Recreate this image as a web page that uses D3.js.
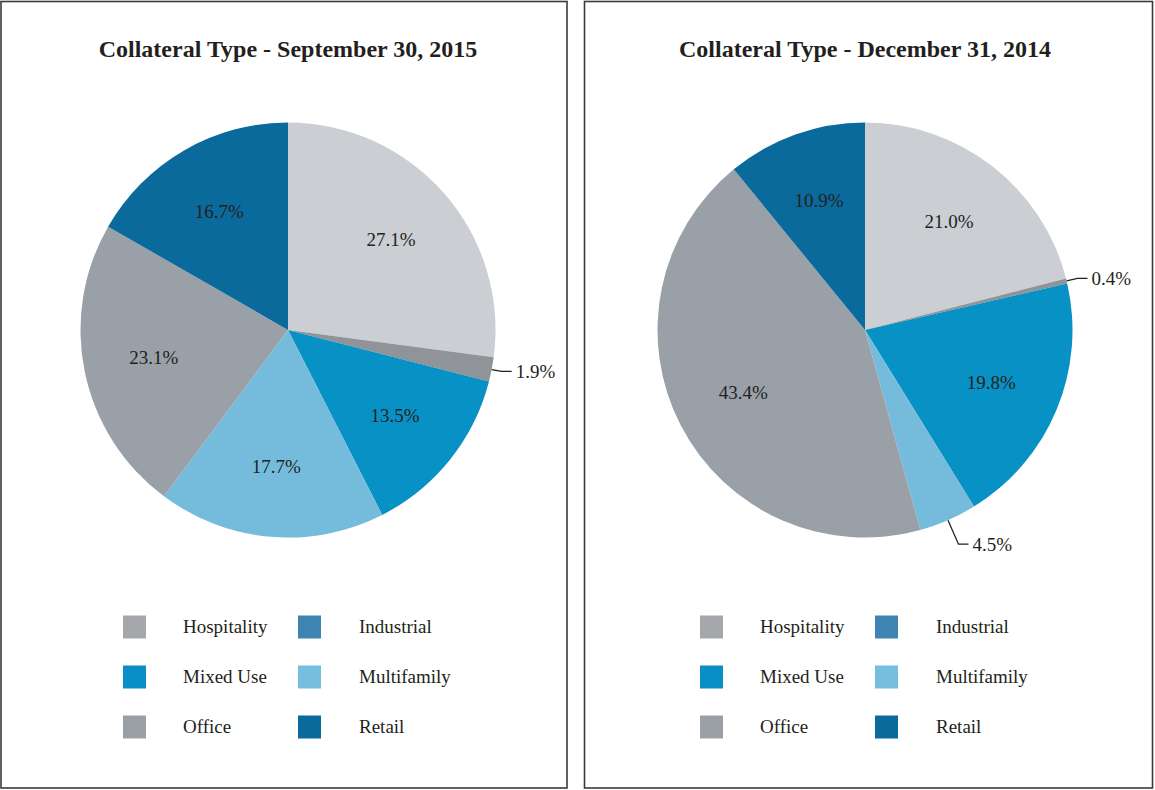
<!DOCTYPE html>
<html>
<head>
<meta charset="utf-8">
<script src="https://cdn.jsdelivr.net/npm/d3@7"></script>
<style>
  html, body { margin: 0; padding: 0; background: #fff; }
  svg { display: block; }
  text { font-family: "Liberation Serif", "Times New Roman", serif; fill: #231f20; }
</style>
</head>
<body>
<svg id="chart" width="1155" height="790"></svg>
<script>
// ---- data ----
const categories = ["Hospitality", "Industrial", "Mixed Use", "Multifamily", "Office", "Retail"];
const titles = ["Collateral Type - September 30, 2015", "Collateral Type - December 31, 2014"];
const valuesSep2015 = [27.1, 1.9, 13.5, 17.7, 23.1, 16.7];
const valuesDec2014 = [21.0, 0.4, 19.8, 4.5, 43.4, 10.9];
const sliceColors = ["#cbced2", "#909398", "#0891c4", "#75bcdc", "#9aa0a8", "#0a6a9c"];
const legendColors = ["#a5a7ab", "#3d85b0", "#0a8ec6", "#76bedd", "#9ba0a6", "#0a6a9c"];

const svg = d3.select("#chart");
const panels = [
  { x0: 1, x1: 567, cx: 288, values: valuesSep2015, title: titles[0] },
  { x0: 584.5, x1: 1152.5, cx: 865, values: valuesDec2014, title: titles[1] }
];
const R = 207.5, cy = 330, labelR = 137;

const pie = d3.pie().sort(null).value(d => d);
const arc = d3.arc().innerRadius(0).outerRadius(R);
const labelArc = d3.arc().innerRadius(labelR).outerRadius(labelR);
const color = d3.scaleOrdinal().domain(categories).range(sliceColors);
const legColor = d3.scaleOrdinal().domain(categories).range(legendColors);

panels.forEach(p => {
  const cx = p.cx;
  svg.append("rect")
    .attr("x", p.x0).attr("y", 1.5)
    .attr("width", p.x1 - p.x0).attr("height", 786.5)
    .attr("fill", "none").attr("stroke", "#3a3a3a").attr("stroke-width", 1.6);

  svg.append("text")
    .attr("x", cx).attr("y", 57)
    .attr("text-anchor", "middle")
    .style("font-size", "24px").style("font-weight", "bold")
    .text(p.title);

  const g = svg.append("g").attr("transform", `translate(${cx},${cy})`);
  const arcs = pie(p.values);
  g.selectAll("path.slice").data(arcs).enter().append("path")
    .attr("class", "slice")
    .attr("d", arc)
    .attr("fill", (d, i) => color(categories[i]));

  arcs.forEach((d, i) => {
    const label = d3.format(".1f")(d.data) + "%";
    if (d.data >= 5) {
      const c = labelArc.centroid(d);
      g.append("text")
        .attr("x", c[0]).attr("y", c[1])
        .attr("text-anchor", "middle").attr("dominant-baseline", "central")
        .style("font-size", "19px")
        .text(label);
    } else {
      const a = (d.startAngle + d.endAngle) / 2;
      const p0 = [Math.sin(a) * R, -Math.cos(a) * R];
      const r1 = R + 6 + 22 * Math.abs(Math.cos(a));
      const p1 = [Math.sin(a) * r1, -Math.cos(a) * r1];
      const p2 = [p1[0] + 10, p1[1]];
      g.append("polyline")
        .attr("points", [p0, p1, p2].map(q => q.join(",")).join(" "))
        .attr("fill", "none").attr("stroke", "#231f20").attr("stroke-width", 1.3);
      g.append("text")
        .attr("x", p2[0] + 4).attr("y", p2[1])
        .attr("dominant-baseline", "central")
        .style("font-size", "19px")
        .text(label);
    }
  });

  // legend
  const lg = svg.append("g").attr("transform", `translate(${cx},0)`);
  categories.forEach((c, i) => {
    const col = i % 2, row = Math.floor(i / 2);
    const y = 627 + row * 50;
    const sx = col === 0 ? -165 : 10;
    const tx = col === 0 ? -105 : 71;
    lg.append("rect")
      .attr("x", sx).attr("y", y - 11.5)
      .attr("width", 23).attr("height", 23)
      .attr("fill", legColor(c));
    lg.append("text")
      .attr("x", tx).attr("y", y - 1)
      .attr("dominant-baseline", "central")
      .style("font-size", "19px")
      .text(c);
  });
});
</script>
</body>
</html>
